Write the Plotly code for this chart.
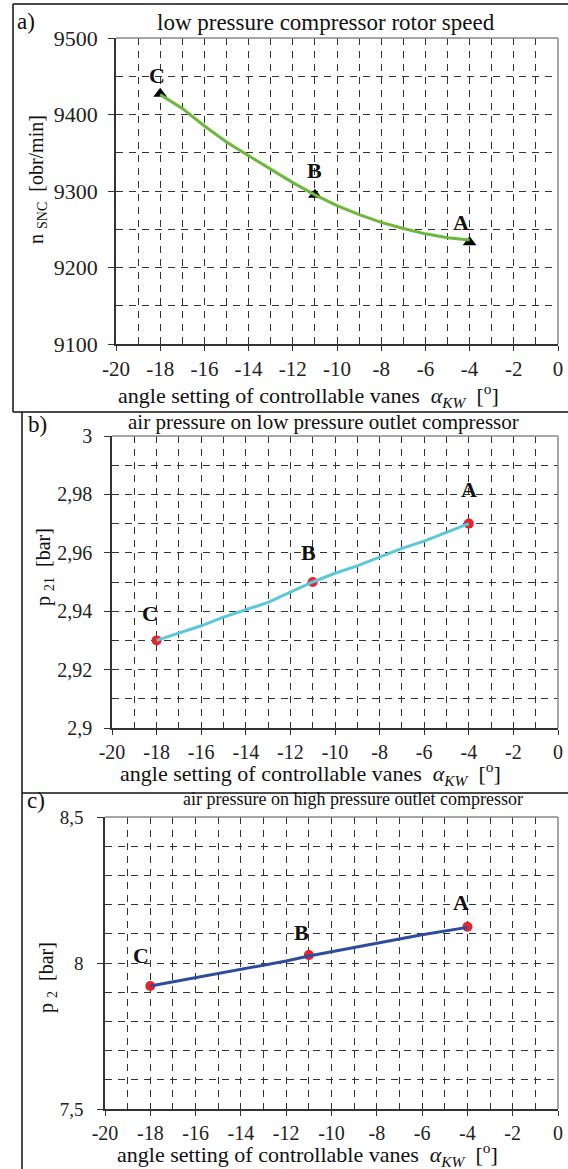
import plotly.graph_objects as go

# ---------------- data ----------------
angle = [-18, -17, -16, -15, -14, -13, -12, -11, -10, -9, -8, -7, -6, -5, -4]
n_snc = [9426, 9408, 9385, 9364, 9346, 9328, 9311, 9295, 9281, 9269, 9259, 9251, 9244, 9239, 9236]
p21 = [2.930, 2.9325, 2.935, 2.938, 2.9405, 2.943, 2.9465, 2.950, 2.953, 2.9555, 2.9585, 2.9615, 2.964, 2.967, 2.970]
p2 = [7.921, 7.935, 7.950, 7.963, 7.977, 7.992, 8.007, 8.024, 8.038, 8.053, 8.068, 8.082, 8.097, 8.110, 8.122]

point_names = ["C", "B", "A"]
point_angle = [-18, -11, -4]
point_n = [9427, 9295, 9233]
point_p21 = [2.930, 2.950, 2.970]
point_p2 = [7.921, 8.027, 8.124]

x_ticks = [-20, -18, -16, -14, -12, -10, -8, -6, -4, -2, 0]
x_minor = [-19, -17, -15, -13, -11, -9, -7, -5, -3, -1]

a_ticks = [9100, 9200, 9300, 9400, 9500]
a_ticktext = ["9100", "9200", "9300", "9400", "9500"]
a_minor = [9150, 9250, 9350, 9450]

b_ticks = [2.90, 2.92, 2.94, 2.96, 2.98, 3.00]
b_ticktext = ["2,9", "2,92", "2,94", "2,96", "2,98", "3"]
b_minor = [2.91, 2.93, 2.95, 2.97, 2.99]

c_ticks = [7.5, 8.0, 8.5]
c_ticktext = ["7,5", "8", "8,5"]
c_minor = [7.6, 7.7, 7.8, 7.9, 8.1, 8.2, 8.3, 8.4]

titles = ["low pressure compressor rotor speed",
          "air pressure on low pressure outlet compressor",
          "air pressure on high pressure outlet compressor"]
xtitle = "angle setting of controllable vanes  <i>α</i><sub><i>KW</i></sub>  [<sup>o</sup>]"
ytitles = ["n <sub>SNC</sub>  [obr/min]", "p <sub>21</sub>  [bar]", "p <sub>2</sub>  [bar]"]
panel_letters = ["a)", "b)", "c)"]

# ---------------- layout helpers ----------------
W, H = 568, 1169
SERIF = "Liberation Serif"


def px(x):
    return x / W


def py(y):
    return 1 - y / H


fig = go.Figure()

# panel a
fig.add_trace(go.Scatter(x=point_angle, y=point_n, mode="markers",
                         marker=dict(symbol="triangle-up", size=12, color="black"),
                         xaxis="x", yaxis="y", showlegend=False, hoverinfo="skip"))
fig.add_trace(go.Scatter(x=angle, y=n_snc, mode="lines",
                         line=dict(color="#6cb83a", width=3),
                         xaxis="x", yaxis="y", showlegend=False))
# panel b
fig.add_trace(go.Scatter(x=point_angle, y=point_p21, mode="markers",
                         marker=dict(symbol="circle", size=10, color="#e8232b"),
                         xaxis="x2", yaxis="y2", showlegend=False, hoverinfo="skip"))
fig.add_trace(go.Scatter(x=angle, y=p21, mode="lines",
                         line=dict(color="#5cc6da", width=3),
                         xaxis="x2", yaxis="y2", showlegend=False))
# panel c
fig.add_trace(go.Scatter(x=point_angle, y=point_p2, mode="markers",
                         marker=dict(symbol="circle", size=10, color="#e8232b"),
                         xaxis="x3", yaxis="y3", showlegend=False, hoverinfo="skip"))
fig.add_trace(go.Scatter(x=angle, y=p2, mode="lines",
                         line=dict(color="#2d4c9e", width=3),
                         xaxis="x3", yaxis="y3", showlegend=False))

GRID = "#333333"
DASH = "7px,6px"


def xaxis_def(domain, anchor, fsize):
    return dict(domain=domain, anchor=anchor, range=[-20, 0], automargin=False,
                tickmode="array", tickvals=x_ticks, ticktext=[str(v) for v in x_ticks],
                showline=True, linecolor="#333", linewidth=1.5,
                ticks="outside", ticklen=5, tickcolor="#333",
                showgrid=True, gridcolor=GRID, gridwidth=1, griddash=DASH,
                minor=dict(tickmode="array", tickvals=x_minor, showgrid=True,
                           gridcolor=GRID, gridwidth=1, griddash=DASH, ticks=""),
                tickfont=dict(family=SERIF, size=fsize, color="#222"),
                zeroline=False, fixedrange=True)


def yaxis_def(domain, anchor, rng, tv, tt, minor, fsize, standoff):
    return dict(domain=domain, anchor=anchor, range=rng, automargin=False,
                tickmode="array", tickvals=tv, ticktext=tt,
                showline=True, linecolor="#333", linewidth=1.5,
                ticks="outside", ticklen=6, tickcolor="#333",
                ticklabelstandoff=standoff,
                showgrid=True, gridcolor=GRID, gridwidth=1, griddash=DASH,
                minor=dict(tickmode="array", tickvals=minor, showgrid=True,
                           gridcolor=GRID, gridwidth=1, griddash=DASH, ticks=""),
                tickfont=dict(family=SERIF, size=fsize, color="#222"),
                zeroline=False, fixedrange=True)


pa = dict(x0=116, x1=558, y0=38, y1=344)
pb = dict(x0=112, x1=558, y0=436, y1=728)
pc = dict(x0=105, x1=558, y0=817, y1=1109)

fig.update_layout(
    width=W, height=H,
    margin=dict(l=0, r=0, t=0, b=0, autoexpand=False),
    paper_bgcolor="white", plot_bgcolor="white",
    font=dict(family=SERIF),
    xaxis=xaxis_def([px(pa["x0"]), px(pa["x1"])], "y", 21),
    yaxis=yaxis_def([py(pa["y1"]), py(pa["y0"])], "x", [9100, 9500], a_ticks, a_ticktext, a_minor, 22, 6),
    xaxis2=xaxis_def([px(pb["x0"]), px(pb["x1"])], "y2", 20),
    yaxis2=yaxis_def([py(pb["y1"]), py(pb["y0"])], "x2", [2.9, 3.0], b_ticks, b_ticktext, b_minor, 20, 8),
    xaxis3=xaxis_def([px(pc["x0"]), px(pc["x1"])], "y3", 20),
    yaxis3=yaxis_def([py(pc["y1"]), py(pc["y0"])], "x3", [7.5, 8.5], c_ticks, c_ticktext, c_minor, 19, 10),
)

shapes = []
# grey top/right borders of plot areas
for xa, ya in (("x", "y"), ("x2", "y2"), ("x3", "y3")):
    shapes.append(dict(type="line", xref=xa + " domain", yref=ya + " domain",
                       x0=0, x1=1, y0=1, y1=1, line=dict(color="#8a8a8a", width=1.5)))
    shapes.append(dict(type="line", xref=xa + " domain", yref=ya + " domain",
                       x0=1, x1=1, y0=0, y1=1, line=dict(color="#8a8a8a", width=1.5)))
# outer panel frames
frame = dict(color="#111", width=1.5)
shapes += [
    dict(type="line", xref="paper", yref="paper", x0=px(13), x1=1, y0=py(4), y1=py(4), line=frame),
    dict(type="line", xref="paper", yref="paper", x0=px(13), x1=px(13), y0=py(4), y1=py(412), line=frame),
    dict(type="line", xref="paper", yref="paper", x0=px(13), x1=1, y0=py(412), y1=py(412), line=frame),
    dict(type="line", xref="paper", yref="paper", x0=px(22), x1=px(22), y0=py(412), y1=py(793), line=frame),
    dict(type="line", xref="paper", yref="paper", x0=px(22), x1=1, y0=py(793), y1=py(793), line=frame),
    dict(type="line", xref="paper", yref="paper", x0=px(22), x1=px(22), y0=py(793), y1=0, line=frame),
]
fig.update_layout(shapes=shapes)

ann = []
# titles
for text, (cx, cy), size in zip(titles, [(326, 22), (323, 422), (353, 799)], [23, 21, 18]):
    ann.append(dict(text=text, x=px(cx), y=py(cy), xref="paper", yref="paper",
                    showarrow=False, xanchor="center", yanchor="middle",
                    font=dict(family=SERIF, size=size, color="#111")))
# panel letters
for text, (cx, cy) in zip(panel_letters, [(26, 21), (37, 425), (36, 800)]):
    ann.append(dict(text=text, x=px(cx), y=py(cy), xref="paper", yref="paper",
                    showarrow=False, xanchor="center", yanchor="middle",
                    font=dict(family=SERIF, size=23, color="#111")))
# x titles
for cx, cy in [(308, 395), (310, 773), (307, 1154)]:
    ann.append(dict(text=xtitle, x=px(cx), y=py(cy), xref="paper", yref="paper",
                    showarrow=False, xanchor="center", yanchor="middle",
                    font=dict(family=SERIF, size=22, color="#111")))
# y titles
for text, (cx, cy) in zip(ytitles, [(38, 180), (45, 567), (47, 978)]):
    ann.append(dict(text=text, x=px(cx), y=py(cy), xref="paper", yref="paper",
                    showarrow=False, xanchor="center", yanchor="middle", textangle=-90,
                    font=dict(family=SERIF, size=20, color="#111")))
# point labels
label_shift = {
    ("x", "y"): [(-3, 18), (0, 24), (-9, 20)],
    ("x2", "y2"): [(-7, 27), (-4, 30), (0, 34)],
    ("x3", "y3"): [(-9, 31), (-7, 23), (-6, 24)],
}
for (xa, ya), vals in zip([("x", "y"), ("x2", "y2"), ("x3", "y3")], [point_n, point_p21, point_p2]):
    for name, xv, yv, (dx, dy) in zip(point_names, point_angle, vals, label_shift[(xa, ya)]):
        ann.append(dict(text="<b>" + name + "</b>", x=xv, y=yv, xref=xa, yref=ya,
                        showarrow=False, xanchor="center", yanchor="middle",
                        xshift=dx, yshift=dy,
                        font=dict(family=SERIF, size=22, color="#111")))
fig.update_layout(annotations=ann)

fig.write_html("out.html", post_script="document.body.style.margin='0';",
               config={"displayModeBar": False})
